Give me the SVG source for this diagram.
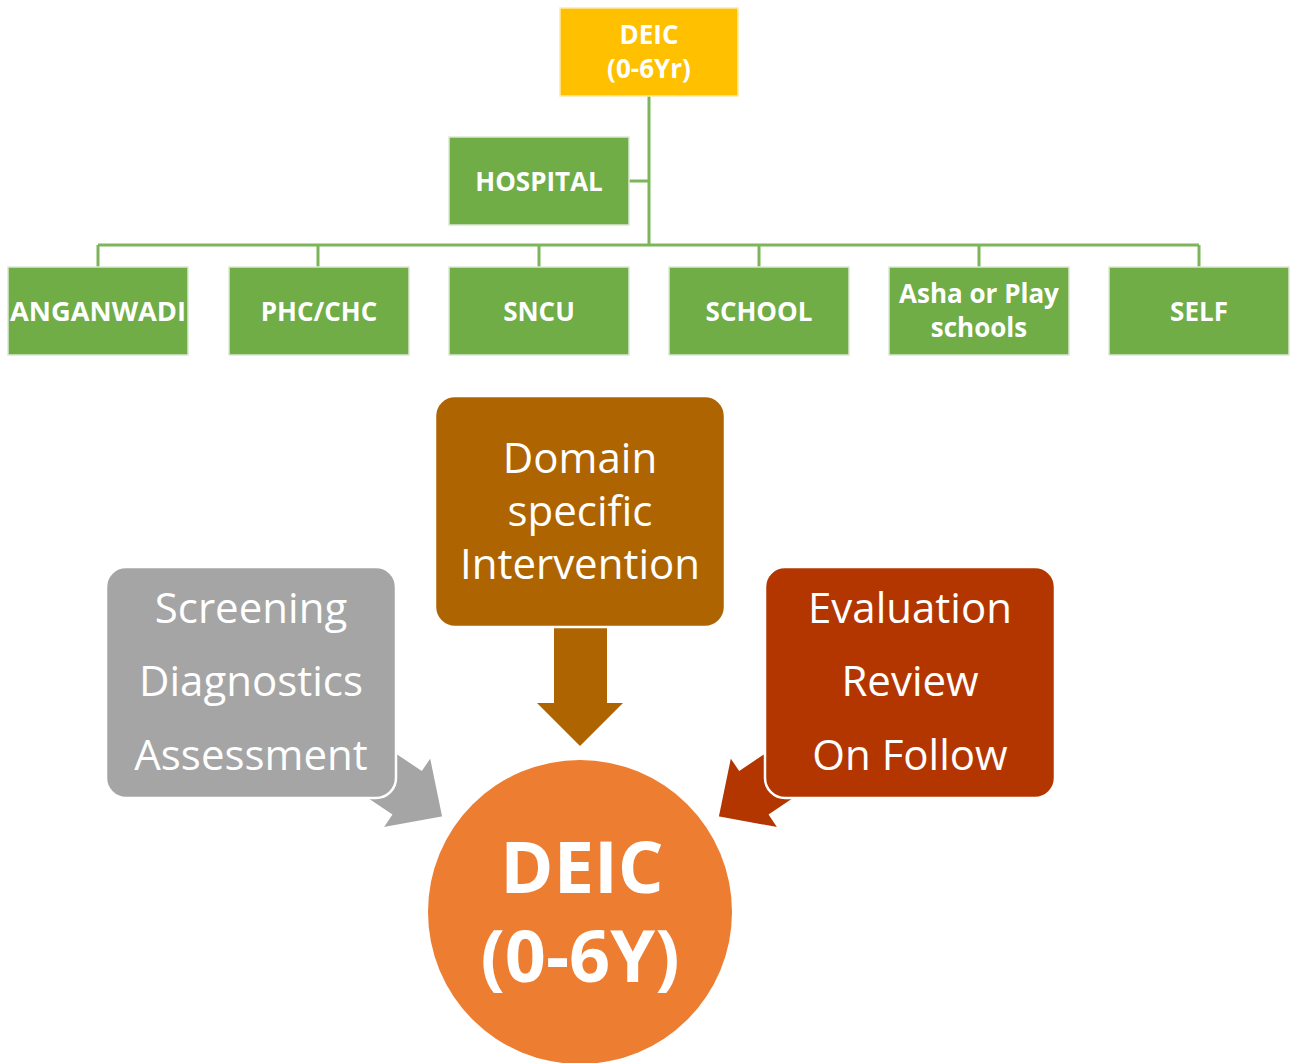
<svg xmlns="http://www.w3.org/2000/svg" width="1296" height="1063" viewBox="0 0 1296 1063">
<style>
.g{fill:#70AD47;stroke:#DDE8D4;stroke-width:1.5}
.lbl{font-family:"Open Sans","Noto Sans","Liberation Sans",sans-serif;font-weight:700;fill:#fff;text-anchor:middle}
.t{font-size:26px}
.mid{font-family:"Open Sans","Noto Sans","Liberation Sans",sans-serif;font-size:42px;fill:#fff;text-anchor:middle}
.con{fill:none;stroke:#7DB55A;stroke-width:3}
.box{stroke:#fff;stroke-width:2.5}
</style>
<rect width="1296" height="1063" fill="#fff"/>
<g id="connectors">
<path class="con" d="M649 96V245M629 181H649M98 245H1199M98 245V267M318 245V267M539 245V267M759 245V267M979 245V267M1199 245V267"/>
<polygon id="arrow-down" points="554,628 607,628 607,703 623,703 580,746 537,703 554,703" fill="#AE6400"/>
<polygon id="arrow-left" points="0,0 -44,-43 -44,-27 -120,-27 -120,27 -44,27 -44,43" fill="#A5A5A5" stroke="#fff" stroke-width="1.5" transform="translate(443,817) rotate(34)"/>
<polygon id="arrow-right" points="0,0 -44,-43 -44,-27 -120,-27 -120,27 -44,27 -44,43" fill="#B33600" stroke="#fff" stroke-width="1.5" transform="translate(718,817) rotate(146)"/>
</g>
<g id="deic-top"><rect x="560" y="8" width="178" height="88" fill="#FFC000" stroke="#FFE9A6" stroke-width="1.5"/><text class="lbl t" x="649" y="44">DEIC</text><text class="lbl t" x="649" y="78">(0-6Yr)</text></g>
<g id="hospital"><rect class="g" x="449" y="137" width="180" height="88"/><text class="lbl t" x="539" y="191">HOSPITAL</text></g>
<g id="anganwadi"><rect class="g" x="8" y="267" width="180" height="88"/><text class="lbl t" x="98" y="321" textLength="176" lengthAdjust="spacingAndGlyphs">ANGANWADI</text></g>
<g id="phc"><rect class="g" x="229" y="267" width="180" height="88"/><text class="lbl t" x="319" y="321">PHC/CHC</text></g>
<g id="sncu"><rect class="g" x="449" y="267" width="180" height="88"/><text class="lbl t" x="539" y="321">SNCU</text></g>
<g id="school"><rect class="g" x="669" y="267" width="180" height="88"/><text class="lbl t" x="759" y="321">SCHOOL</text></g>
<g id="asha"><rect class="g" x="889" y="267" width="180" height="88"/><text class="lbl t" x="979" y="303">Asha or Play</text><text class="lbl t" x="979" y="337">schools</text></g>
<g id="self"><rect class="g" x="1109" y="267" width="180" height="88"/><text class="lbl t" x="1199" y="321">SELF</text></g>
<g id="domain"><rect class="box" x="435" y="396" width="290" height="231" rx="20" fill="#AE6400"/><text class="mid" x="580" y="473">Domain</text><text class="mid" x="580" y="526">specific</text><text class="mid" x="580" y="579">Intervention</text></g>
<g id="screening"><rect class="box" x="106" y="567" width="290" height="231" rx="20" fill="#A5A5A5"/><text class="mid" x="251" y="623">Screening</text><text class="mid" x="251" y="696">Diagnostics</text><text class="mid" x="251" y="770">Assessment</text></g>
<g id="evaluation"><rect class="box" x="765" y="567" width="290" height="231" rx="20" fill="#B33600"/><text class="mid" x="910" y="623">Evaluation</text><text class="mid" x="910" y="696">Review</text><text class="mid" x="910" y="770">On Follow</text></g>
<g id="deic-circle"><circle cx="580" cy="912" r="152" fill="#ED7D31"/><text class="lbl" x="582" y="893" font-size="72">DEIC</text><text class="lbl" x="580" y="982" font-size="72">(0-6Y)</text></g>
</svg>
